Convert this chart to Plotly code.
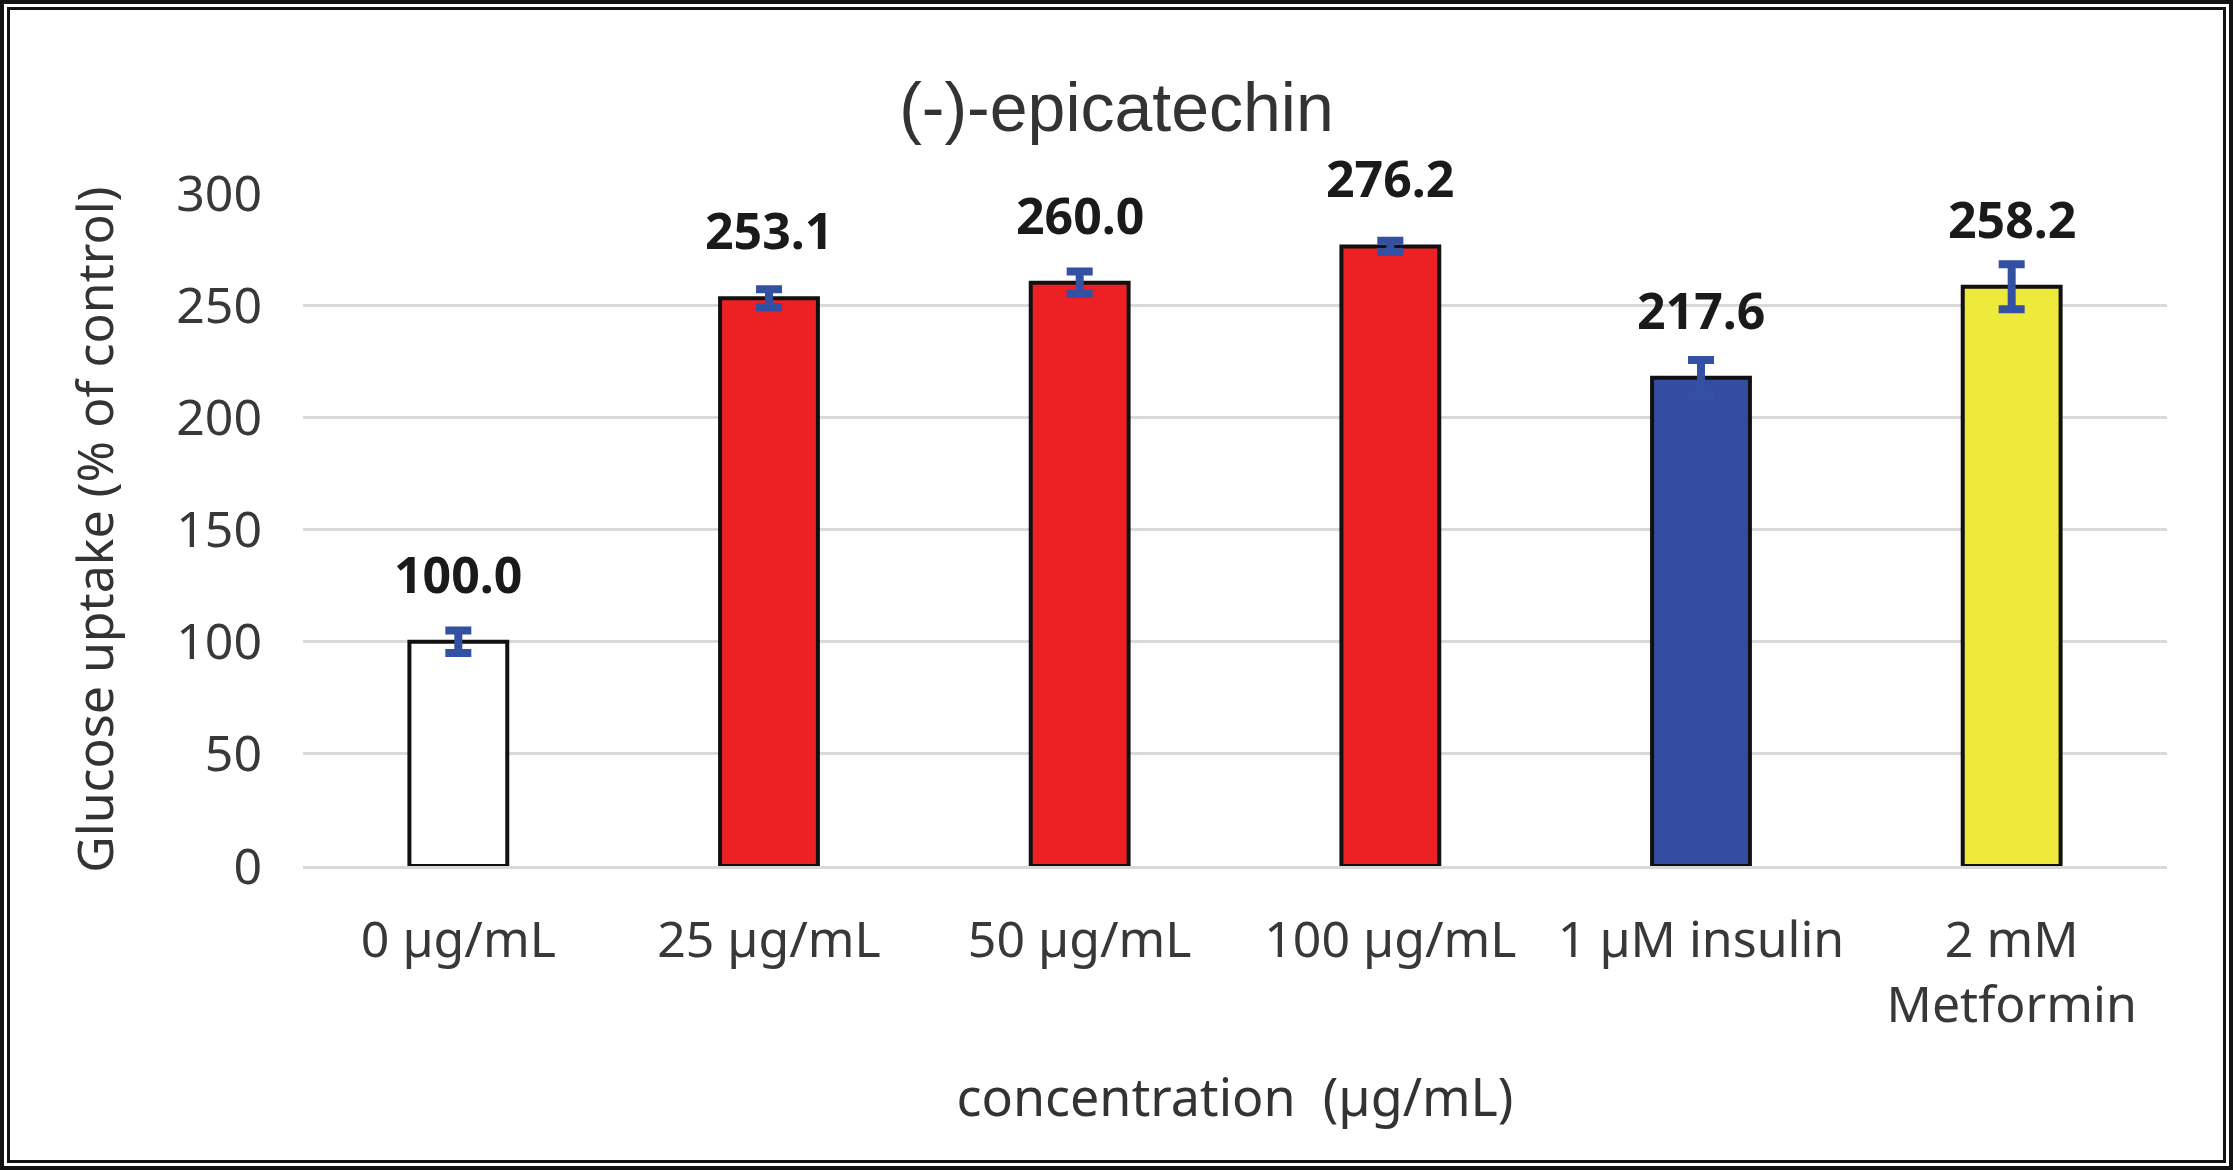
import plotly.graph_objects as go

categories = ["0 µg/mL", "25 µg/mL", "50 µg/mL", "100 µg/mL", "1 µM insulin", "2 mM<br>Metformin"]
values = [100.0, 253.1, 260.0, 276.2, 217.6, 258.2]
errors = [5.0, 4.0, 5.0, 2.5, 8.0, 10.0]
bar_colors = ["#FFFFFF", "#ED2024", "#ED2024", "#ED2024", "#334EA0", "#EEEA3C"]
y_ticks = [0, 50, 100, 150, 200, 250, 300]

W, H = 2233, 1170
L, R, T, B = 303, 66, 193, 304
FONT = "Noto Sans"

fig = go.Figure()
fig.add_trace(go.Bar(
    x=categories, y=values, width=0.315,
    marker=dict(color=bar_colors, line=dict(color="#111111", width=4)),
    error_y=dict(type="data", array=errors, visible=True, color="#3350A2", thickness=8, width=13),
    showlegend=False,
))

for c, v in zip(categories, values):
    fig.add_annotation(x=c, y=v, text=f"<b>{v:.1f}</b>", showarrow=False,
                       yanchor="bottom", yshift=32,
                       font=dict(family=FONT, size=50, color="#1a1a1a"))

# double border around whole chart, in paper coords
pw, ph = W - L - R, H - T - B
def px2paper_x(px):
    return (px - L) / pw
def px2paper_y(py):
    return (H - B - py) / ph

for inset, lw in [(2, 4), (8.5, 3)]:
    fig.add_shape(type="rect", xref="paper", yref="paper",
                  x0=px2paper_x(inset), x1=px2paper_x(W - inset),
                  y0=px2paper_y(H - inset), y1=px2paper_y(inset),
                  line=dict(color="#111111", width=lw), layer="above")

fig.update_layout(
    width=W, height=H,
    margin=dict(l=L, r=R, t=T, b=B),
    paper_bgcolor="white", plot_bgcolor="white",
    title=dict(text="(-)-epicatechin", x=0.5, xref="container", xanchor="center",
               y=1 - 107 / H, yref="container", yanchor="middle",
               font=dict(family="Liberation Sans", size=68, color="#333333")),
    font=dict(family=FONT, color="#333333"),
    bargap=0.685,
)
fig.update_xaxes(
    showgrid=False, showline=True, linecolor="#D9D9D9", linewidth=3,
    ticks="", tickfont=dict(family=FONT, size=50, color="#383838"),
    ticklabelstandoff=28,
    title=dict(text="concentration  (µg/mL)", font=dict(family=FONT, size=52, color="#333333"), standoff=44),
)
fig.update_yaxes(
    range=[0, 300], tickvals=y_ticks, showgrid=True, gridcolor="#D9D9D9", gridwidth=3,
    zeroline=False, showline=False, ticks="",
    tickfont=dict(family=FONT, size=50, color="#383838"),
    ticklabelstandoff=40,
    title=dict(text="Glucose uptake (% of control)", font=dict(family=FONT, size=50, color="#333333"), standoff=46),
)

fig.write_html("out.html", config={"displayModeBar": False},
               post_script="document.body.style.margin='0';document.body.style.overflow='hidden';")
